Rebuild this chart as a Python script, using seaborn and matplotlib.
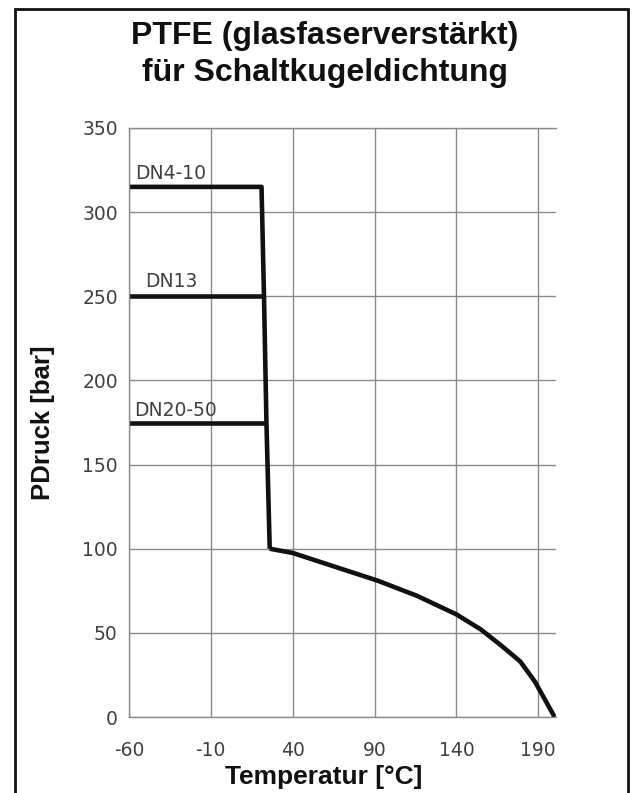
import matplotlib
matplotlib.use("Agg")
import matplotlib.pyplot as plt
import matplotlib.patches as mpatches
import seaborn as sns
import pandas as pd

# Data
dn4_temp = [-60, 21, 22.5, 24, 26]
dn4_pres = [315, 315, 250, 175, 100]
dn13_temp = [-60, 22.5]
dn13_pres = [250, 250]
dn20_temp = [-60, 24]
dn20_pres = [175, 175]
curve_temp = [26, 40, 92, 116, 140, 155, 168, 179, 188, 200]
curve_pres = [100, 97.5, 81, 72, 61, 52, 42, 33, 21, 0]

labels = ["DN4-10", "DN13", "DN20-50"]
label_temp = [-56, -50, -57]
label_pres = [323, 259, 182]

x_ticks = [-60, -10, 40, 90, 140, 190]
y_ticks = [0, 50, 100, 150, 200, 250, 300, 350]

rows = []
for name, xs, ys in [("DN4-10", dn4_temp, dn4_pres), ("DN13", dn13_temp, dn13_pres),
                     ("DN20-50", dn20_temp, dn20_pres), ("curve", curve_temp, curve_pres)]:
    for i, (x, y) in enumerate(zip(xs, ys)):
        rows.append({"series": name, "order": i, "T": x, "P": y})
df = pd.DataFrame(rows)

sns.set_theme(style="white")
plt.rcParams["font.family"] = ["DejaVu Sans"]
plt.rcParams["axes.unicode_minus"] = False

fig = plt.figure(figsize=(6.35, 7.93), dpi=100)
ax = fig.add_axes([0.203, 0.0958, 0.673, 0.7428])

sns.lineplot(data=df, x="T", y="P", hue="series", units="series", estimator=None,
             sort=False, palette=["#111111"] * 4, linewidth=3.3, legend=False, ax=ax,
             solid_joinstyle="round", solid_capstyle="butt")

ax.set_xlim(-60, 201)
ax.set_ylim(0, 350)
ax.set_xticks(x_ticks)
ax.set_yticks(y_ticks)
ax.grid(True, color="#8a8a8a", linewidth=1.0)
ax.set_axisbelow(True)
for s in ["left", "bottom", "top"]:
    ax.spines[s].set_visible(True)
    ax.spines[s].set_color("#8a8a8a")
    ax.spines[s].set_linewidth(1.0)
ax.spines["right"].set_visible(False)
ax.tick_params(axis="both", length=0, labelsize=13.5, labelcolor="#404040")
ax.tick_params(axis="y", pad=8)
ax.tick_params(axis="x", pad=17)

for t, x, y in zip(labels, label_temp, label_pres):
    ax.text(x, y, t, fontsize=13.5, color="#404040", ha="left", va="center")

ax.set_xlabel("Temperatur [°C]", fontsize=19, fontweight="bold",
              family=["Liberation Sans", "DejaVu Sans"], color="#111111")
ax.set_ylabel("PDruck [bar]", fontsize=18.5, fontweight="bold",
              family=["Liberation Sans", "DejaVu Sans"], color="#111111")
ax.xaxis.set_label_coords(0.456, -0.102)
ax.yaxis.set_label_coords(-0.2, 0.5)
ax.yaxis.label.set_va("center")
ax.xaxis.label.set_va("center")

fig.text(0.512, 1 - 36 / 793, "PTFE (glasfaserverstärkt)", ha="center", va="center",
         fontsize=23, fontweight="bold", family=["Liberation Sans", "DejaVu Sans"], color="#111111")
fig.text(0.512, 1 - 73 / 793, "für Schaltkugeldichtung", ha="center", va="center",
         fontsize=23, fontweight="bold", family=["Liberation Sans", "DejaVu Sans"], color="#111111")

border = mpatches.Rectangle((15 / 635, -0.02), (628 - 15) / 635, 1 - 9 / 793 + 0.02,
                            transform=fig.transFigure, fill=False, edgecolor="#111111",
                            linewidth=2.0, clip_on=False)
fig.patches.append(border)

fig.savefig("out.png", dpi=100)
